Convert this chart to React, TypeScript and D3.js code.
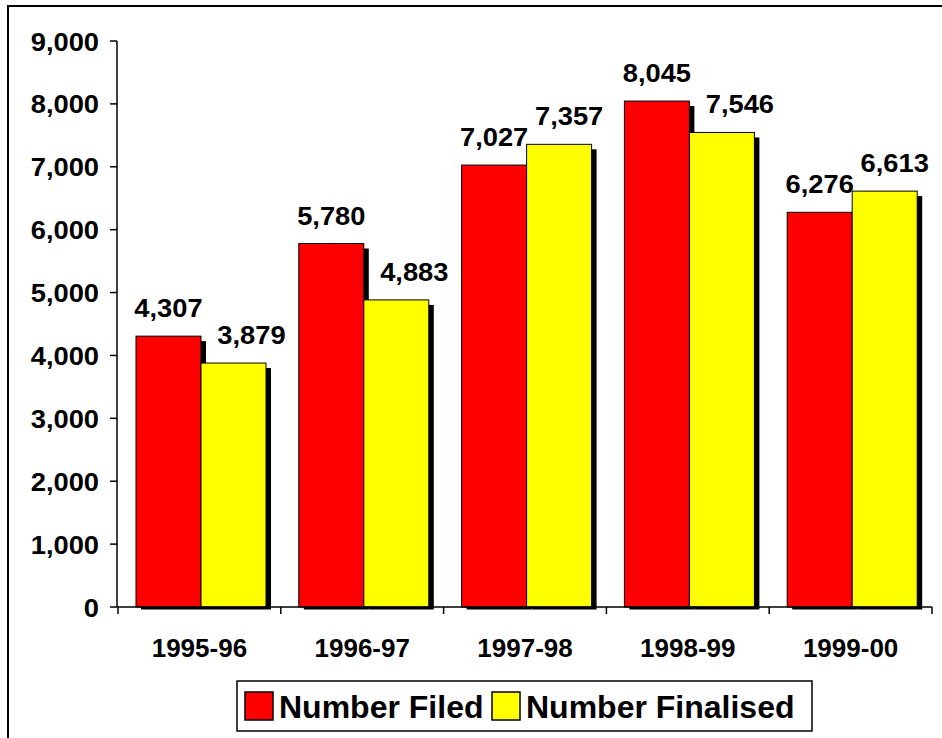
import React from "react";
import * as d3 from "d3";

const years = ["1995-96", "1996-97", "1997-98", "1998-99", "1999-00"];
const filed = [4307, 5780, 7027, 8045, 6276];
const finalised = [3879, 4883, 7357, 7546, 6613];
const yTicks = [0, 1000, 2000, 3000, 4000, 5000, 6000, 7000, 8000, 9000];
const seriesNames = ["Number Filed", "Number Finalised"];
const seriesColors = ["#ff0000", "#ffff00"];

const W = 942, H = 738;
const left = 117, right = 932, top = 41, bottom = 607;
const font = "'Liberation Sans', Arial, sans-serif";
const fmt = d3.format(",");

const x0 = d3.scaleBand<string>().domain(years).range([left + 1, right]);
const x1 = d3.scaleBand<number>().domain([0, 1]).range([18, 148]);
const y = d3.scaleLinear().domain([0, 9000]).range([bottom, top]);

const Txt: React.FC<{ x: number; y: number; size: number; anchor?: string; sx?: number; children: React.ReactNode }> =
  ({ x, y, size, anchor = "middle", sx = 1.05, children }) => (
    <text transform={`translate(${x},${y}) scale(${sx},1)`} textAnchor={anchor as any}
      fontFamily={font} fontWeight="bold" fontSize={size} fill="#000">{children}</text>
  );

export default function App() {
  const series = [filed, finalised];
  return (
    <svg width={W} height={H} style={{ position: "absolute", left: 0, top: 0, background: "#fff" }}>
      <rect x={8} y={6} width={1000} height={1000} fill="#fff" stroke="#000" strokeWidth={2} />

      {/* bars with drop shadows */}
      {years.map((yr, i) => (
        <g key={yr} transform={`translate(${x0(yr)},0)`}>
          {series.map((s, k) => {
            const bx = x1(k)!;
            const bw = x1.bandwidth();
            const by = y(s[i]);
            return (
              <g key={k}>
                <rect x={bx + 5} y={by + 5} width={bw} height={y(0) + 2.5 - by - 5} fill="#000" />
                <rect x={bx} y={by} width={bw} height={y(0) - by} fill={seriesColors[k]} stroke="#000" strokeWidth={1} />
              </g>
            );
          })}
        </g>
      ))}

      {/* value labels */}
      {years.map((yr, i) => {
        const bw = x1.bandwidth();
        const redX = x0(yr)! + x1(0)! + bw / 2;
        const yelDx = finalised[i] < filed[i] ? 18 : 10;
        const yelX = x0(yr)! + x1(1)! + bw / 2 + yelDx;
        return (
          <g key={yr}>
            <Txt x={redX} y={y(filed[i]) - 19} size={26}>{fmt(filed[i])}</Txt>
            <Txt x={yelX} y={y(finalised[i]) - 19} size={26}>{fmt(finalised[i])}</Txt>
          </g>
        );
      })}

      {/* y axis */}
      <line x1={left} x2={left} y1={top} y2={bottom} stroke="#000" strokeWidth={1.5} />
      {yTicks.map(t => (
        <g key={t}>
          <line x1={left - 7} x2={left} y1={y(t)} y2={y(t)} stroke="#000" strokeWidth={1.5} />
          <Txt x={99} y={y(t) + 9.5} size={26} anchor="end">{fmt(t)}</Txt>
        </g>
      ))}

      {/* x axis */}
      <line x1={left} x2={right} y1={bottom} y2={bottom} stroke="#000" strokeWidth={1.5} />
      {[...years.map(yr => x0(yr)!), right].map((tx, i) => (
        <line key={i} x1={tx} x2={tx} y1={bottom} y2={bottom + 7} stroke="#000" strokeWidth={1.5} />
      ))}
      {years.map(yr => (
        <Txt key={yr} x={x0(yr)! + x0.bandwidth() / 2} y={657} size={26} sx={1.0}>{yr}</Txt>
      ))}

      {/* legend */}
      <rect x={237} y={681} width={575} height={50} fill="#fff" stroke="#000" strokeWidth={1.5} />
      {seriesNames.map((n, k) => {
        const lx = k === 0 ? 245 : 492;
        return (
          <g key={n}>
            <rect x={lx} y={692} width={28} height={28} fill={seriesColors[k]} stroke="#000" strokeWidth={1.5} />
            <Txt x={lx + 34} y={718} size={32} anchor="start" sx={1.0}>{n}</Txt>
          </g>
        );
      })}
    </svg>
  );
}
